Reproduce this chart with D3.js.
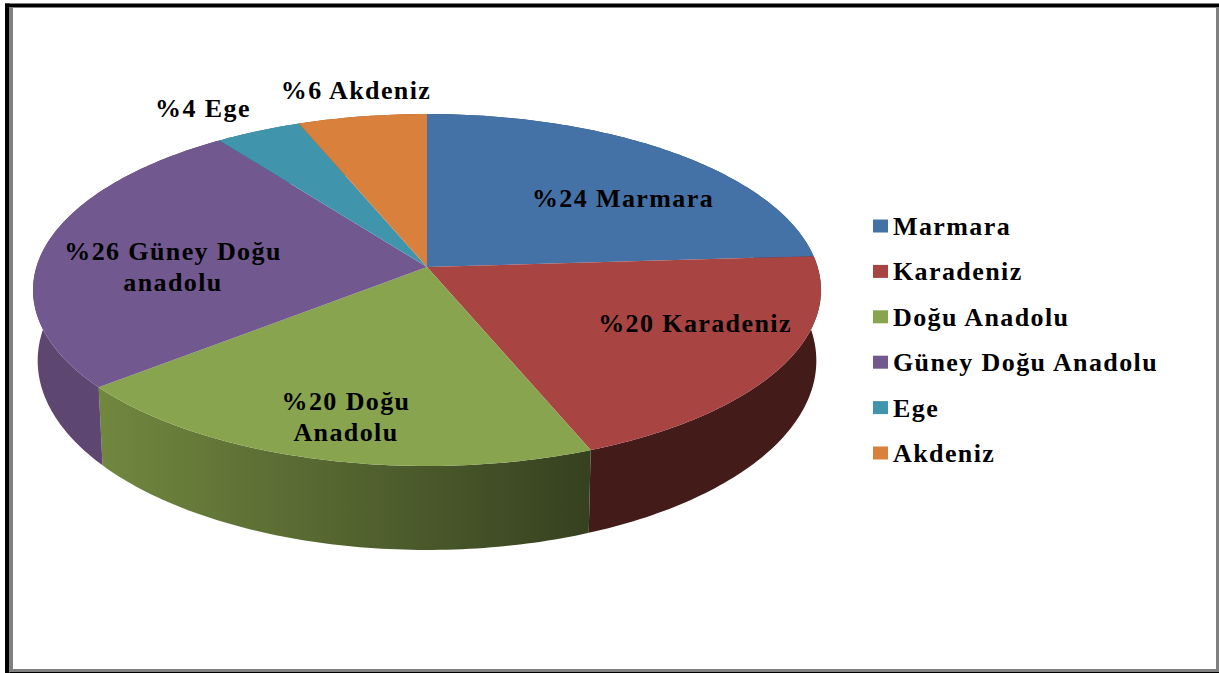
<!DOCTYPE html>
<html lang="tr">
<head>
<meta charset="UTF-8">
<title>Bölgeler</title>
<script src="https://d3js.org/d3.v7.min.js"></script>
<style>
  html, body { margin: 0; padding: 0; background: #fff; }
  svg { display: block; }
  text { font-family: "Liberation Serif", serif; font-weight: bold; fill: #000; letter-spacing: 1.4px; }
</style>
</head>
<body>
<div id="chart"></div>
<script>
// data
var categories = ["Marmara", "Karadeniz", "Doğu Anadolu", "Güney Doğu Anadolu", "Ege", "Akdeniz"];
var values = [24, 20, 20, 26, 4, 6];
var sliceLabels = [
  ["%24 Marmara"],
  ["%20 Karadeniz"],
  ["%20 Doğu", "Anadolu"],
  ["%26 Güney Doğu", "anadolu"],
  ["%4 Ege"],
  ["%6 Akdeniz"]
];

// styles and positions
var colors = ["#4471a6", "#a84442", "#88a44e", "#71588f", "#4095ad", "#d9803c"];
var sideFrom = ["#2c4a6e", "#431b18", "#71873f", "#5d4670", "#2a6272", "#8f5427"];
var sideTo = ["#2c4a6e", "#431b18", "#364120", "#5f4974", "#2a6272", "#8f5427"];
var labelPos = [[623, 207], [695, 332], [346, 410], [173, 260], [203, 117], [356, 99]];

var width = 1219, height = 673;
var svg = d3.select("#chart").append("svg").attr("width", width).attr("height", height);

// frame: thick black on top and left, grey inside and on the right and bottom
var frame = svg.append("g");
frame.append("rect").attr("x", 5).attr("y", 3.5).attr("width", 1214).attr("height", 3.5).attr("fill", "#000");
frame.append("rect").attr("x", 5).attr("y", 3.5).attr("width", 4.5).attr("height", 669.5).attr("fill", "#000");
frame.append("rect").attr("x", 9.5).attr("y", 7).attr("width", 1209.5).attr("height", 1).attr("fill", "#808080");
frame.append("rect").attr("x", 9.5).attr("y", 7).attr("width", 3.5).attr("height", 665).attr("fill", "#808080");
frame.append("rect").attr("x", 1216).attr("y", 7).attr("width", 3).attr("height", 665).attr("fill", "#808080");
frame.append("rect").attr("x", 9.5).attr("y", 669).attr("width", 1209.5).attr("height", 3).attr("fill", "#808080");
frame.append("rect").attr("x", 9.5).attr("y", 672).attr("width", 1209.5).attr("height", 1).attr("fill", "#000");

// pie is tilted with a bit of perspective: k makes the near edge larger than the far one
var k = 0.1307;
var topX = d3.scaleLinear().domain([-1, 1]).range([427 - 390.6, 427 + 390.6]);
var topY = d3.scaleLinear().domain([-1, 1]).range([267 - 173, 267 + 173]);
var botX = d3.scaleLinear().domain([-1, 1]).range([427 - 386, 427 + 386]);
var botY = d3.scaleLinear().domain([-1, 1]).range([336 - 186, 336 + 186]);

function project(a, sx, sy) {
  var X = Math.sin(a), Y = -Math.cos(a), w = 1 / (1 - k * Y);
  return [sx(X * w), sy(Y * w)];
}

var pie = d3.pie().sort(null).value(function(d) { return d; });
var arcs = pie(values);
var line = d3.line();

function sample(d) {
  var n = Math.max(2, Math.ceil((d.endAngle - d.startAngle) * 60));
  return d3.range(n + 1).map(function(i) {
    return d.startAngle + (d.endAngle - d.startAngle) * i / n;
  });
}

var defs = svg.append("defs");
arcs.forEach(function(d, i) {
  var xs = sample(d).map(function(a) { return project(a, botX, botY)[0]; });
  var g = defs.append("linearGradient").attr("id", "side" + i)
    .attr("gradientUnits", "userSpaceOnUse")
    .attr("x1", d3.min(xs)).attr("x2", d3.max(xs)).attr("y1", 0).attr("y2", 0);
  g.append("stop").attr("offset", 0).attr("stop-color", sideFrom[i]);
  g.append("stop").attr("offset", 1).attr("stop-color", sideTo[i]);
});

// rim first, the top disc covers whatever is behind
svg.append("g").selectAll("path").data(arcs).enter().append("path")
  .attr("d", function(d) {
    var as = sample(d);
    var up = as.map(function(a) { return project(a, topX, topY); });
    var down = as.slice().reverse().map(function(a) { return project(a, botX, botY); });
    return line(up.concat(down)) + "Z";
  })
  .attr("fill", function(d, i) { return "url(#side" + i + ")"; });

svg.append("g").selectAll("path").data(arcs).enter().append("path")
  .attr("d", function(d) {
    var pts = sample(d).map(function(a) { return project(a, topX, topY); });
    pts.push([topX(0), topY(0)]);
    return line(pts) + "Z";
  })
  .attr("fill", function(d, i) { return colors[i]; });

// slice labels
var lab = svg.append("g").selectAll("text").data(sliceLabels).enter().append("text")
  .attr("text-anchor", "middle")
  .attr("font-size", 26)
  .attr("x", function(d, i) { return labelPos[i][0]; })
  .attr("y", function(d, i) { return labelPos[i][1]; });
lab.selectAll("tspan").data(function(d) { return d; }).enter().append("tspan")
  .attr("x", function() { return this.parentNode.getAttribute("x"); })
  .attr("dy", function(d, i) { return i ? 31 : 0; })
  .text(function(d) { return d; });

// legend
var legendY = d3.scalePoint().domain(categories).range([226, 453]);
var legend = svg.append("g").selectAll("g").data(categories).enter().append("g")
  .attr("transform", function(d) { return "translate(873," + legendY(d) + ")"; });
legend.append("rect").attr("x", 0).attr("y", -6.5).attr("width", 15).attr("height", 13)
  .attr("fill", function(d, i) { return colors[i]; });
legend.append("text").attr("x", 20).attr("y", 9).attr("font-size", 26)
  .text(function(d) { return d; });
</script>
</body>
</html>
